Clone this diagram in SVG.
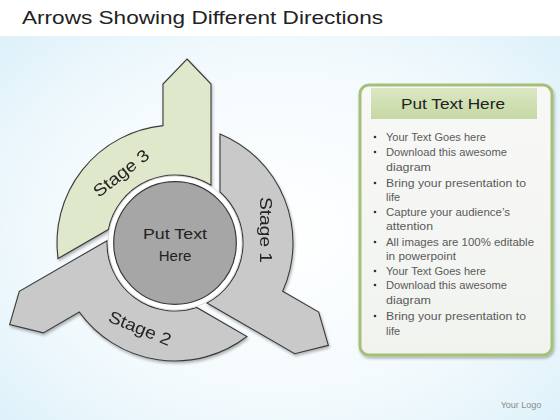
<svg xmlns="http://www.w3.org/2000/svg" width="560" height="420" viewBox="0 0 560 420">
<defs>
<radialGradient id="bg" cx="0.5" cy="0.55" r="0.75">
<stop offset="0" stop-color="#ffffff"/>
<stop offset="0.55" stop-color="#f3fafd"/>
<stop offset="1" stop-color="#d8eff9"/>
</radialGradient>
<linearGradient id="hdr" x1="0" y1="0" x2="0" y2="1">
<stop offset="0" stop-color="#dbe7c4"/>
<stop offset="1" stop-color="#c6d8a3"/>
</linearGradient>
<linearGradient id="pnl" x1="0" y1="0" x2="0" y2="1">
<stop offset="0" stop-color="#f8f9f7"/>
<stop offset="1" stop-color="#f1f3ef"/>
</linearGradient>
<filter id="sh" x="-10%" y="-10%" width="120%" height="120%">
<feGaussianBlur in="SourceAlpha" stdDeviation="1.5"/>
<feOffset dx="1" dy="1.5"/>
<feComponentTransfer><feFuncA type="linear" slope="0.3"/></feComponentTransfer>
<feMerge><feMergeNode/><feMergeNode in="SourceGraphic"/></feMerge>
</filter>
<path id="seg" d="M187,59 L211,84 L211,185.31 A68,68 0 0 0 108.34,229.53 L58.03,258.57 A118,118 0 0 1 163,125.61 L163,84 Z"/>
</defs>
<style>
.seg{stroke:#3a3a3a;stroke-width:1.1;stroke-linejoin:miter}
.g{fill:#dfe8cb}
.gr{fill:#c9c9c9}
.lbl{font-family:"Liberation Sans",Arial,sans-serif;font-size:17px;fill:#222}
.ctr{font-family:"Liberation Sans",Arial,sans-serif;font-size:15px;fill:#222;text-anchor:middle}
.bul{font-family:"Liberation Sans",Arial,sans-serif;font-size:11px;fill:#5a5a5a}
.dot{fill:#333}
</style>
<rect x="0" y="0" width="560" height="420" fill="url(#bg)"/>
<rect x="0" y="0" width="560" height="36" fill="#ffffff"/>
<text x="22" y="24" font-family="'Liberation Sans',Arial,sans-serif" font-size="19" fill="#222" textLength="361" lengthAdjust="spacingAndGlyphs">Arrows Showing Different Directions</text>

<g id="connectors"></g>

<g id="stage3" filter="url(#sh)">
<use href="#seg" class="seg g"/>
<text class="lbl" x="121" y="179" text-anchor="middle" transform="rotate(-38 121 173)" textLength="66" lengthAdjust="spacingAndGlyphs">Stage 3</text>
</g>
<g id="stage1" filter="url(#sh)">
<use href="#seg" class="seg gr" transform="rotate(120 175 243)"/>
<text class="lbl" x="266" y="236" text-anchor="middle" transform="rotate(90 266 230)" textLength="66" lengthAdjust="spacingAndGlyphs">Stage 1</text>
</g>
<g id="stage2" filter="url(#sh)">
<use href="#seg" class="seg gr" transform="rotate(240 175 243)"/>
<text class="lbl" x="140" y="334" text-anchor="middle" transform="rotate(22 140 328)" textLength="66" lengthAdjust="spacingAndGlyphs">Stage 2</text>
</g>

<g id="center">
<circle cx="175" cy="243" r="67" fill="#ffffff" stroke="#bdbdbd" stroke-width="0.6"/>
<circle cx="175" cy="243" r="61.3" fill="#a6a6a6" stroke="#3a3a3a" stroke-width="1.2"/>
<text class="ctr" x="175" y="239" textLength="64" lengthAdjust="spacingAndGlyphs">Put Text</text>
<text class="ctr" x="175" y="261">Here</text>
</g>

<g id="panel">
<rect x="360" y="85" width="192" height="270" rx="9" fill="url(#pnl)" stroke="#a5c079" stroke-width="3" filter="url(#sh)"/>
<rect x="371" y="88" width="166" height="31" fill="url(#hdr)"/>
<text x="453" y="109" text-anchor="middle" font-family="'Liberation Sans',Arial,sans-serif" font-size="15" fill="#222" textLength="104" lengthAdjust="spacingAndGlyphs">Put Text Here</text>
<g class="dot">
<circle cx="375" cy="137" r="1.3"/>
<circle cx="375" cy="152" r="1.3"/>
<circle cx="375" cy="183" r="1.3"/>
<circle cx="375" cy="212" r="1.3"/>
<circle cx="375" cy="242" r="1.3"/>
<circle cx="375" cy="271" r="1.3"/>
<circle cx="375" cy="285" r="1.3"/>
<circle cx="375" cy="316" r="1.3"/>
</g>
<text class="bul" x="386" y="141" textLength="100" lengthAdjust="spacingAndGlyphs">Your Text Goes here</text>
<text class="bul" x="386" y="156" textLength="121" lengthAdjust="spacingAndGlyphs">Download this awesome</text>
<text class="bul" x="386" y="171" textLength="45" lengthAdjust="spacingAndGlyphs">diagram</text>
<text class="bul" x="386" y="187" textLength="140" lengthAdjust="spacingAndGlyphs">Bring your presentation to</text>
<text class="bul" x="386" y="201">life</text>
<text class="bul" x="386" y="216" textLength="124" lengthAdjust="spacingAndGlyphs">Capture your audience’s</text>
<text class="bul" x="386" y="230" textLength="47" lengthAdjust="spacingAndGlyphs">attention</text>
<text class="bul" x="386" y="246" textLength="148" lengthAdjust="spacingAndGlyphs">All images are 100% editable</text>
<text class="bul" x="386" y="260" textLength="70" lengthAdjust="spacingAndGlyphs">in powerpoint</text>
<text class="bul" x="386" y="275" textLength="100" lengthAdjust="spacingAndGlyphs">Your Text Goes here</text>
<text class="bul" x="386" y="289" textLength="121" lengthAdjust="spacingAndGlyphs">Download this awesome</text>
<text class="bul" x="386" y="304" textLength="45" lengthAdjust="spacingAndGlyphs">diagram</text>
<text class="bul" x="386" y="320" textLength="140" lengthAdjust="spacingAndGlyphs">Bring your presentation to</text>
<text class="bul" x="386" y="335">life</text>
</g>

<text x="521" y="408" text-anchor="middle" font-family="'Liberation Sans',Arial,sans-serif" font-size="9" fill="#8a8a8a">Your Logo</text>
</svg>
